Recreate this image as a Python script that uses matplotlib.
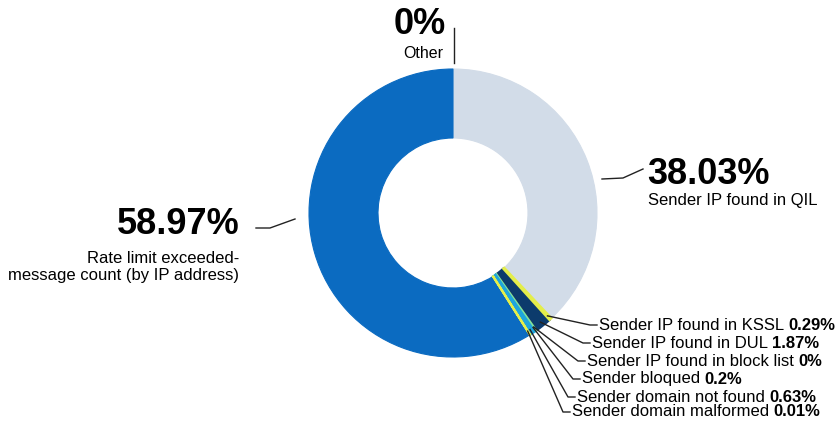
import numpy as np
import matplotlib.pyplot as plt

plt.rcParams['font.family'] = ['Liberation Sans', 'DejaVu Sans']

# slices, clockwise from 12 o'clock
labels = ["Other", "Sender IP found in QIL", "Sender IP found in KSSL",
          "Sender IP found in DUL", "Sender IP found in block list",
          "Sender bloqued", "Sender domain not found",
          "Sender domain malformed",
          "Rate limit exceeded-\nmessage count (by IP address)"]
values = [0, 38.03, 0.29, 1.87, 0, 0.2, 0.63, 0.01, 58.97]
pct_labels = ["0%", "38.03%", "0.29%", "1.87%", "0%", "0.2%", "0.63%", "0.01%", "58.97%"]
colors = ["#9aa9b8", "#d2dce8", "#e4ee4a", "#0c3b6c", "#444444",
          "#80e39c", "#1ea5dd", "#e4ee4a", "#0b6bc1"]

W, H = 838, 421
fig = plt.figure(figsize=(W / 100, H / 100), dpi=100)
ax = fig.add_axes([0, 0, 1, 1])

# work in pixel units, y measured downward (plotted as -y)
cx, cy, R, R_in = 453, 213, 144, 75
wedges, _ = ax.pie(values, colors=colors, startangle=90, counterclock=False,
                   center=(cx, -cy), radius=R, frame=False,
                   wedgeprops=dict(width=R - R_in, linewidth=0.8))
small = [2, 3, 4, 5, 6, 7]
for i, w in enumerate(wedges):
    w.set_edgecolor(w.get_facecolor())
    if i in small:
        w.set_linewidth(1.6)
        w.set_zorder(3)
# draw the thin ones last so they stay visible
for i in [6, 5, 7, 2]:
    wedges[i].set_zorder(4)

ax.set_xlim(0, W)
ax.set_ylim(-H, 0)
ax.set_aspect('equal')
ax.axis('off')

line_col = '#222222'
big = 26
norm = 12

# Other (top)
ax.text(420, -25, pct_labels[0], fontsize=big, fontweight='bold', ha='center', va='center')
ax.text(423, -53, labels[0], fontsize=11.5, ha='center', va='center')
ax.plot([454, 454], [-28, -63], color=line_col, lw=1)

# QIL (right)
ax.text(647, -174, pct_labels[1], fontsize=big, fontweight='bold', ha='left', va='center')
ax.text(648, -200, labels[1], fontsize=norm, ha='left', va='center')
ax.plot([602, 623, 643], [-179, -178, -169], color=line_col, lw=1)

# rate limit (left)
ax.text(240, -225, pct_labels[8], fontsize=big, fontweight='bold', ha='right', va='center')
ax.text(239, -267, labels[8], fontsize=norm, ha='right', va='center',
        multialignment='right', linespacing=1.1)
ax.plot([256, 270, 295], [-228, -228, -219], color=line_col, lw=1)

# small slices, labels stacked bottom right
text_x = [599, 592, 587, 582, 577, 572]
text_y = [325, 343, 361, 379, 397, 412]
cum = np.cumsum(values)
for k, i in enumerate(small):
    th = np.radians((cum[i] - values[i] / 2) / 100 * 360)
    x0 = cx + R * 0.97 * np.sin(th)
    y0 = cy - R * 0.97 * np.cos(th)
    tx, ty = text_x[k], text_y[k]
    ax.plot([x0, tx - 9, tx - 2], [-y0, -ty, -ty], color=line_col, lw=1, zorder=5)
    t = ax.text(tx, -ty, labels[i], fontsize=norm, ha='left', va='center')
    ax.annotate(pct_labels[i], xy=(1, 0.5), xycoords=t, xytext=(3, 0),
                textcoords='offset points', ha='left', va='center',
                fontsize=norm, fontweight='bold')

fig.savefig('out.png', dpi=100)
